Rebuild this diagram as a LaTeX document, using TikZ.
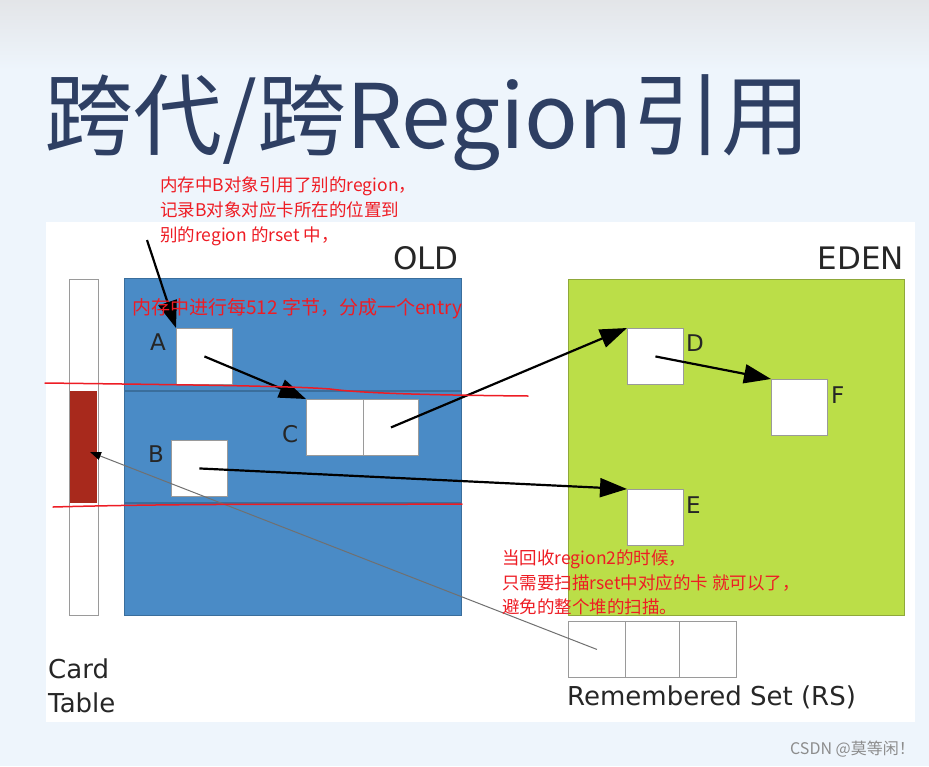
\documentclass[tikz,border=0pt]{standalone}
\usepackage{fontspec}
\setmainfont{DejaVu Sans}
\newfontfamily\cjk{Noto Sans CJK SC}
\usetikzlibrary{arrows.meta,calc}
\definecolor{titleblue}{HTML}{2E3F63}
\definecolor{oldblue}{HTML}{4A8BC6}
\definecolor{oldline}{HTML}{3A6E9C}
\definecolor{edengreen}{HTML}{BBDE48}
\definecolor{edenline}{HTML}{8FA83A}
\definecolor{cardred}{HTML}{A8291C}
\definecolor{notered}{HTML}{EE1C24}
\definecolor{bgblue}{HTML}{EEF5FC}
\definecolor{bggray}{HTML}{E3E5E8}
\definecolor{boxline}{HTML}{9A9A9A}
\definecolor{labeltext}{HTML}{262626}
\begin{document}
\begin{tikzpicture}[x=1pt,y=-1pt,
  obj/.style={draw=boxline, fill=white, line width=0.9pt, minimum width=56pt, minimum height=56pt, inner sep=0pt, anchor=north west},
  rscell/.style={draw=boxline, fill=white, line width=0.9pt, minimum height=56pt, inner sep=0pt, anchor=north west},
  lbl/.style={anchor=base west, inner sep=0pt, text=labeltext, font=\fontsize{23}{23}\selectfont},
  biglbl/.style={inner sep=0pt, text=labeltext, font=\fontsize{31}{31}\selectfont},
  note/.style={anchor=base west, inner sep=0pt, text=notered, font=\cjk\fontsize{17.5}{17.5}\selectfont},
  conn/.style={line width=2.2pt, -{Triangle[length=27pt,width=19pt]}},
  redline/.style={notered, line width=1.5pt, line cap=round}
]
\useasboundingbox (0,0) rectangle (929,766);
% background
\fill[bgblue] (0,0) rectangle (929,766);
\shade[top color=bggray, bottom color=bgblue] (0,0) rectangle (929,70);
\fill[white] (46,222) rectangle (915,722);
% title
\node[anchor=base west, inner sep=0pt, text=titleblue, font=\cjk\fontsize{89}{89}\selectfont] (title) at (44,148) {跨代/跨Region引用};
% regions
\draw[boxline, fill=white, line width=0.9pt] (69,279) rectangle (98,615);
\fill[cardred] (70,391) rectangle (97,503);
\coordinate (cardhit) at (90,452);
\draw[oldline, fill=oldblue, line width=0.8pt] (124,278) rectangle (461,615);
\draw[oldline, line width=1.2pt] (124,391) -- (461,391);
\draw[oldline, line width=1.2pt] (124,503) -- (461,503);
\draw[edenline, fill=edengreen, line width=0.8pt] (568,279) rectangle (904,615);
\node[biglbl, anchor=base east] (oldlbl) at (459,269) {OLD};
\node[biglbl, anchor=base east] (edenlbl) at (904,269) {EDEN};
% objects
\node[obj] (A) at (176,328) {};
\node[obj] (B) at (171,440) {};
\node[obj, minimum width=57pt] (C1) at (306,399) {};
\node[obj, minimum width=55pt] (C2) at (363,399) {};
\node[obj] (D) at (627,328) {};
\node[obj] (F) at (771,379) {};
\node[obj] (E) at (627,489) {};
\node[lbl] (Alb) at (150,350) {A};
\node[lbl] (Blb) at (148,462) {B};
\node[lbl] (Clb) at (282,442) {C};
\node[lbl] (Dlb) at (686,351) {D};
\node[lbl] (Flb) at (831,403) {F};
\node[lbl] (Elb) at (686,513) {E};
% remembered set
\node[rscell, minimum width=57pt] (RS1) at (568,621) {};
\node[rscell, minimum width=54pt] (RS2) at (625,621) {};
\node[rscell, minimum width=57pt] (RS3) at (679,621) {};
\node[anchor=base west, inner sep=0pt, text=labeltext, font=\fontsize{26}{26}\selectfont] (rslbl) at (567,705) {Remembered Set (RS)};
\node[anchor=base west, inner sep=0pt, text=labeltext, font=\fontsize{26}{26}\selectfont] (card1) at (48,678) {Card};
\node[anchor=base west, inner sep=0pt, text=labeltext, font=\fontsize{26}{26}\selectfont] (card2) at (48,712) {Table};
% connectors
\draw[conn] (A.center) -- (C1.north west);
\draw[conn] (C2.center) -- (D.north west);
\draw[conn] (B.center) -- (E.north west);
\draw[conn] (D.center) -- (F.north west);
\draw[color={rgb,255:red,112;green,112;blue,112}, line width=1pt, -{Triangle[length=11pt,width=8pt,fill=black,color=black]}] (RS1.center) -- (cardhit);
% annotations
\node[note] (n1a) at (160,191.5) {内存中B对象引用了别的region，};
\node[note] (n1b) at (160,216.5) {记录B对象对应卡所在的位置到};
\node[note] (n1c) at (160,241.5) {别的region 的rset 中，};
\coordinate (n1tail) at (147,240);
\draw[conn] (n1tail) -- (A.north west);
\node[note, font=\cjk\fontsize{19}{19}\selectfont] (n2) at (132,314.5) {内存中进行每512 字节，分成一个entry};
\node[note] (n3a) at (502,564.5) {当回收region2的时候，};
\node[note] (n3b) at (502,589.5) {只需要扫描rset中对应的卡 就可以了，};
\node[note] (n3c) at (502,613.5) {避免的整个堆的扫描。};
% hand-drawn red lines
\draw[redline] (45,383) .. controls (200,385) and (290,386) .. (330,389) .. controls (360,393) and (420,395) .. (528,396);
\draw[redline] (53,507) .. controls (200,503) and (300,505) .. (462,504);
% watermark
\node[anchor=base east, inner sep=0pt, text={rgb,255:red,140;green,140;blue,140}, font=\cjk\fontsize{16}{16}\selectfont] (wm) at (915,754) {CSDN @莫等闲！};
\end{tikzpicture}
\end{document}
